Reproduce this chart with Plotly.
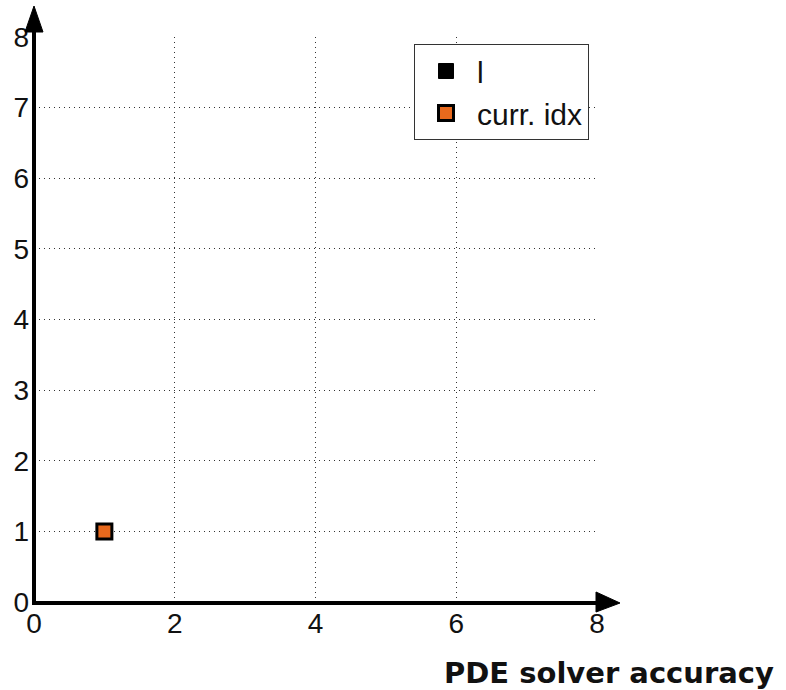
import plotly.graph_objects as go

# data
series_l_x = []
series_l_y = []
curr_idx_x = [1]
curr_idx_y = [1]
x_ticks = [0, 2, 4, 6, 8]
y_ticks = [0, 1, 2, 3, 4, 5, 6, 7, 8]
x_label = "PDE solver accuracy"

W, H = 786, 690
L, R, T, B = 34, 189, 37, 88
pw, ph = W - L - R, H - T - B

def px2paper(px, py):
    return (px - L) / pw, (H - B - py) / ph

fig = go.Figure()
fig.add_trace(go.Scatter(
    x=series_l_x if series_l_x else [None], y=series_l_y if series_l_y else [None],
    mode="markers", name="l",
    marker=dict(symbol="square", size=15, color="black", line=dict(color="black", width=1)),
))
fig.add_trace(go.Scatter(
    x=curr_idx_x, y=curr_idx_y, mode="markers", name="curr. idx",
    marker=dict(symbol="square", size=15, color="#E8691D", line=dict(color="black", width=3)),
))

font = "Liberation Sans, Arial, sans-serif"
axis_common = dict(
    range=[0, 8], showgrid=True, gridcolor="#333", griddash="1px,4px", gridwidth=1,
    zeroline=False, showline=False, ticks="", tickfont=dict(family=font, size=28, color="#111"),
)
fig.update_xaxes(tickvals=x_ticks, ticklabelstandoff=2, **axis_common)
fig.update_yaxes(tickvals=y_ticks, ticklabelstandoff=4, **axis_common)

# axis lines with arrows (paper coordinates)
x0, y0 = px2paper(34, 603)
xt, _ = px2paper(620, 603)
xb, _ = px2paper(596, 603)
_, ya = px2paper(34, 592)
_, yb = px2paper(34, 612)
shapes = []
shapes.append(dict(type="line", xref="paper", yref="paper", x0=x0, y0=y0, x1=xb, y1=y0,
                   line=dict(color="black", width=4)))
shapes.append(dict(type="path", xref="paper", yref="paper",
                   path=f"M {xb},{ya} L {xt},{y0} L {xb},{yb} Z",
                   fillcolor="black", line=dict(color="black", width=1)))
_, ytip = px2paper(34, 6)
_, ybase = px2paper(34, 32)
xl, _ = px2paper(25, 0)
xr, _ = px2paper(43, 0)
_, ybot = px2paper(34, 605)
shapes.append(dict(type="line", xref="paper", yref="paper", x0=x0, y0=ybot, x1=x0, y1=ybase,
                   line=dict(color="black", width=4)))
shapes.append(dict(type="path", xref="paper", yref="paper",
                   path=f"M {xl},{ybase} L {x0},{ytip} L {xr},{ybase} Z",
                   fillcolor="black", line=dict(color="black", width=1)))

lx, ly = px2paper(589, 44)
tx, ty = px2paper(609, 673)

fig.update_layout(
    width=W, height=H, margin=dict(l=L, r=R, t=T, b=B),
    plot_bgcolor="white", paper_bgcolor="white",
    shapes=shapes,
    showlegend=True,
    legend=dict(x=lx, y=ly, xanchor="right", yanchor="top",
                bordercolor="#333", borderwidth=1, bgcolor="white", itemwidth=52,
                font=dict(family=font, size=30, color="#111"), tracegroupgap=0),
    annotations=[dict(text=f"<b>{x_label}</b>", xref="paper", yref="paper", x=tx, y=ty,
                      xanchor="center", yanchor="middle", showarrow=False,
                      font=dict(family="DejaVu Sans, sans-serif", size=29, color="#111"))],
)

fig.write_html("out.html")
